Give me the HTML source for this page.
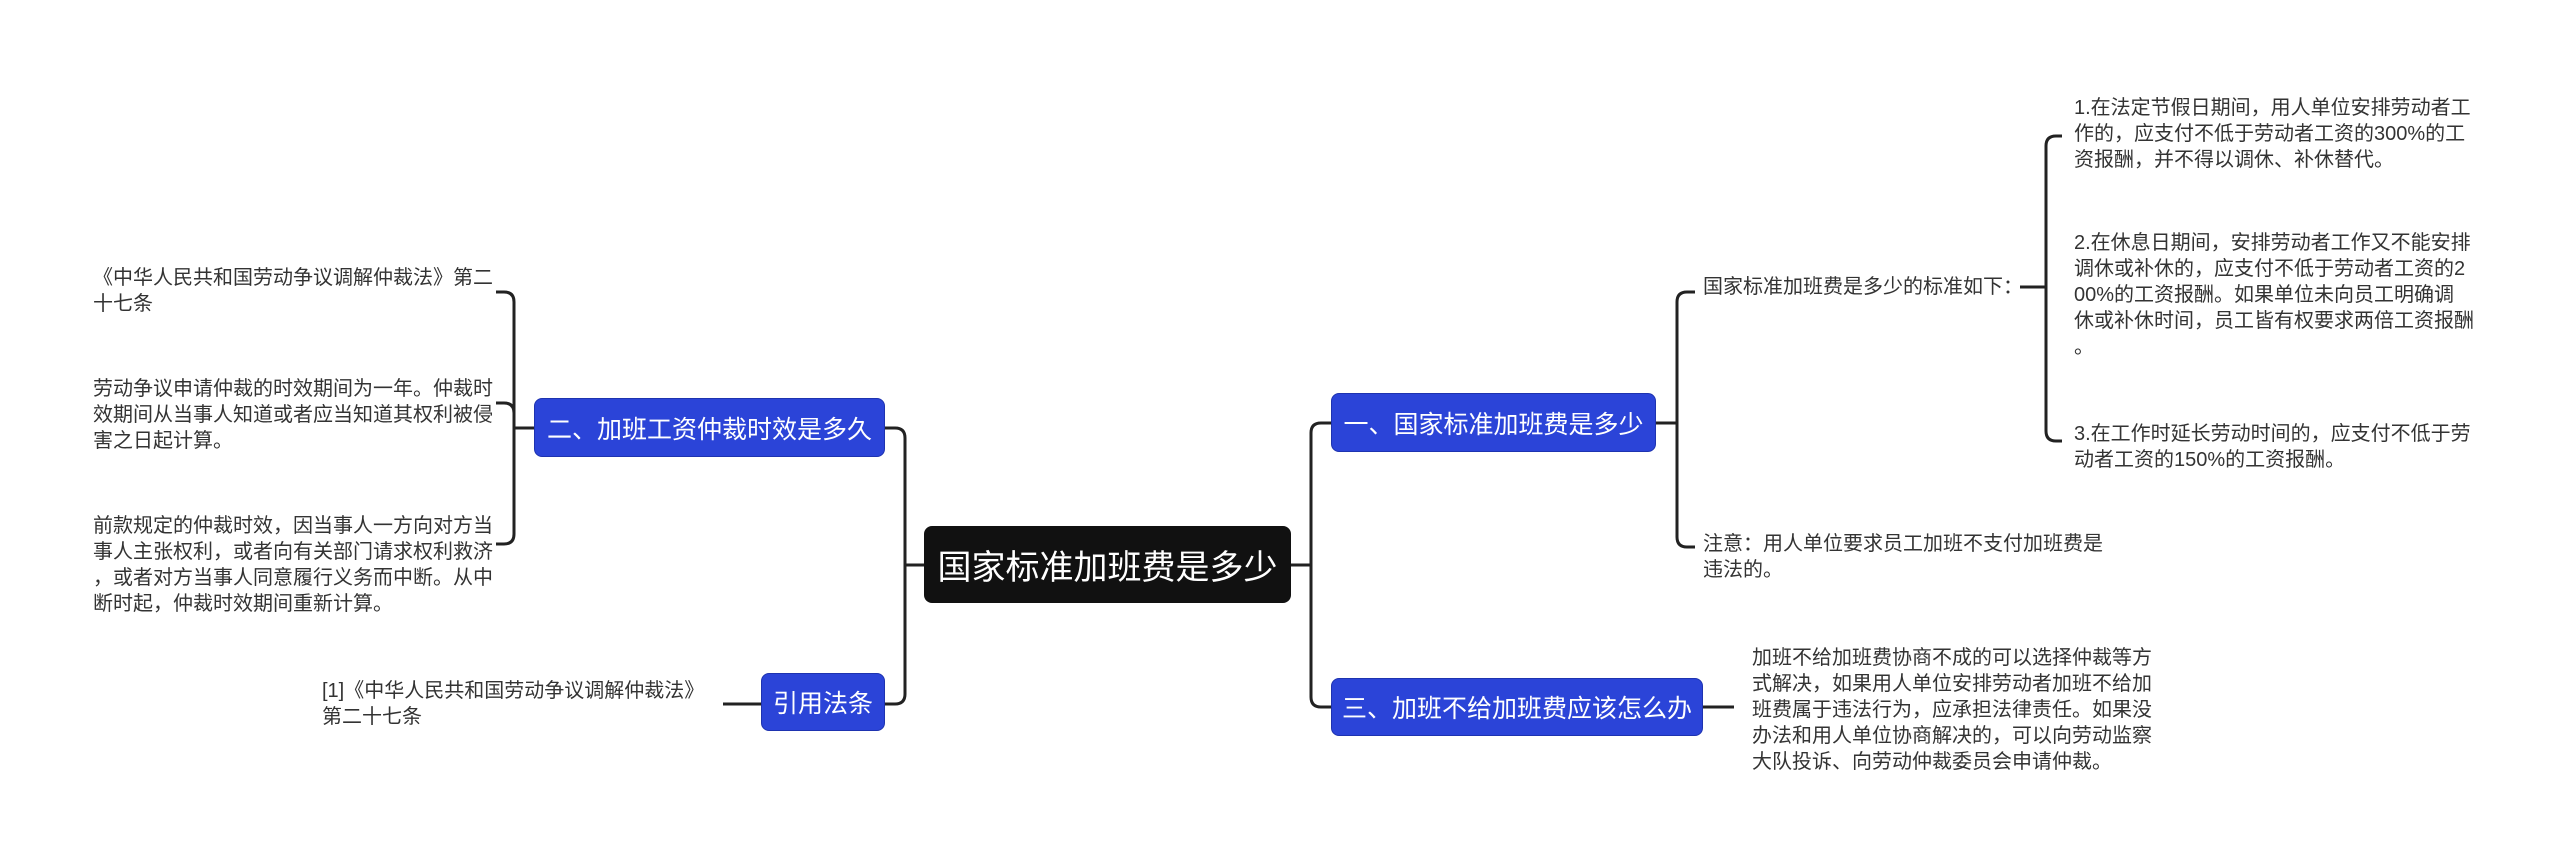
<!DOCTYPE html>
<html><head><meta charset="utf-8"><style>
body{margin:0;width:2560px;height:863px;background:#fff;position:relative;overflow:hidden;font-family:"Liberation Sans","Noto Sans CJK SC",sans-serif;}
.t{position:absolute;font-size:20px;line-height:26px;color:#333;white-space:nowrap;}
.n{position:absolute;background:#2b44d8;border:1px solid #1e33b0;border-radius:8px;color:#fff;font-size:25px;display:flex;align-items:center;justify-content:center;box-sizing:border-box;white-space:nowrap;}
.c{position:absolute;background:#111;border-radius:8px;color:#fff;font-size:34px;display:flex;align-items:center;justify-content:center;box-sizing:border-box;}
svg{position:absolute;left:0;top:0}
</style></head><body>
<svg width="2560" height="863" fill="none" stroke="#222" stroke-width="3">
<path d="M924 565H905"/><path d="M885 428H895Q905 428 905 438V694Q905 704 895 704H885"/>
<path d="M1291 565H1311"/><path d="M1331 423H1321Q1311 423 1311 433V697Q1311 707 1321 707H1331"/>
<path d="M1656 423H1677"/><path d="M1695 292H1687Q1677 292 1677 302V537Q1677 547 1687 547H1695"/>
<path d="M2020 287H2046"/><path d="M2062 136H2056Q2046 136 2046 146V431Q2046 441 2056 441H2062"/>
<path d="M534 428H514"/><path d="M496 292H504Q514 292 514 302V534Q514 544 504 544H496"/><path d="M496 403H504Q514 403 514 413"/>
<path d="M1703 707H1734"/>
<path d="M761 704H723"/>
</svg>
<div class="c" style="left:924px;top:526px;width:367px;height:77px;">国家标准加班费是多少</div>
<div class="n" style="left:1331px;top:393px;width:325px;height:59px;">一、国家标准加班费是多少</div>
<div class="n" style="left:1331px;top:678px;width:372px;height:58px;">三、加班不给加班费应该怎么办</div>
<div class="n" style="left:534px;top:398px;width:351px;height:59px;">二、加班工资仲裁时效是多久</div>
<div class="n" style="left:761px;top:673px;width:124px;height:58px;">引用法条</div>
<div class="t" style="left:93px;top:265px;">《中华人民共和国劳动争议调解仲裁法》第二<br>十七条</div>
<div class="t" style="left:93px;top:376px;">劳动争议申请仲裁的时效期间为一年。仲裁时<br>效期间从当事人知道或者应当知道其权利被侵<br>害之日起计算。</div>
<div class="t" style="left:93px;top:513px;">前款规定的仲裁时效，因当事人一方向对方当<br>事人主张权利，或者向有关部门请求权利救济<br>，或者对方当事人同意履行义务而中断。从中<br>断时起，仲裁时效期间重新计算。</div>
<div class="t" style="left:322px;top:678px;">[1]《中华人民共和国劳动争议调解仲裁法》<br>第二十七条</div>
<div class="t" style="left:1703px;top:274px;">国家标准加班费是多少的标准如下：</div>
<div class="t" style="left:1703px;top:531px;">注意：用人单位要求员工加班不支付加班费是<br>违法的。</div>
<div class="t" style="left:2074px;top:95px;">1.在法定节假日期间，用人单位安排劳动者工<br>作的，应支付不低于劳动者工资的300%的工<br>资报酬，并不得以调休、补休替代。</div>
<div class="t" style="left:2074px;top:230px;">2.在休息日期间，安排劳动者工作又不能安排<br>调休或补休的，应支付不低于劳动者工资的2<br>00%的工资报酬。如果单位未向员工明确调<br>休或补休时间，员工皆有权要求两倍工资报酬<br>。</div>
<div class="t" style="left:2074px;top:421px;">3.在工作时延长劳动时间的，应支付不低于劳<br>动者工资的150%的工资报酬。</div>
<div class="t" style="left:1752px;top:645px;">加班不给加班费协商不成的可以选择仲裁等方<br>式解决，如果用人单位安排劳动者加班不给加<br>班费属于违法行为，应承担法律责任。如果没<br>办法和用人单位协商解决的，可以向劳动监察<br>大队投诉、向劳动仲裁委员会申请仲裁。</div>
</body></html>
